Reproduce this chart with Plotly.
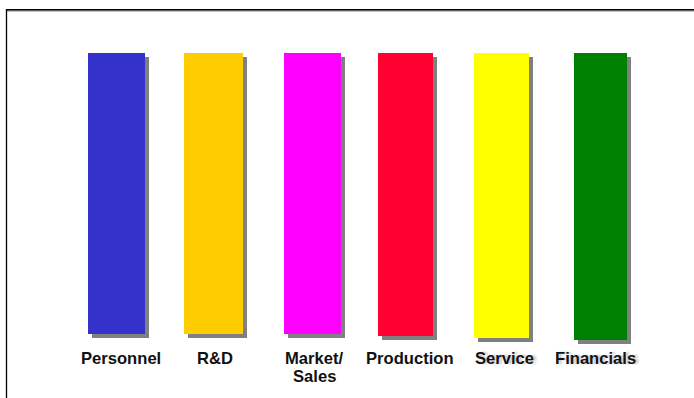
import plotly.graph_objects as go

# ---- data ----
categories = ["Personnel", "R&D", "Market/<br>Sales", "Production", "Service", "Financials"]
bar_lengths = [281, 281, 281, 283, 285, 287]   # bar lengths as read (px units of the drawing)
colors = ["#3333CC", "#FFCC00", "#FF00FF", "#FF0033", "#FFFF00", "#008000"]

# ---- layout helpers (positions / sizes / styles) ----
centers = [116.5, 213.5, 312.5, 405.5, 501.5, 600.5]
widths = [57, 59, 57, 55, 55, 53]
label_dx = [4.5, 1.2, 1.5, 4.5, 2.5, -5.5]
top = 53
shadow_off = 4
W, H = 694, 398

fig = go.Figure()

# shadows
fig.add_trace(go.Bar(
    x=[c + shadow_off for c in centers], y=bar_lengths, base=[top + shadow_off] * len(centers),
    width=widths, marker=dict(color="#808080", line=dict(width=0)),
    hoverinfo="skip", showlegend=False))
# bars
fig.add_trace(go.Bar(
    x=centers, y=bar_lengths, base=[top] * len(centers),
    width=widths, marker=dict(color=colors, line=dict(width=0)),
    text=categories, hoverinfo="x+y", textposition="none", showlegend=False))

annotations = []
for i, cat in enumerate(categories):
    for j, line in enumerate(cat.split("<br>")):
        f = dict(family="Arial, Liberation Sans, sans-serif", size=16.6, color="#111111")
        if cat in ("Service", "Financials"):
            f["shadow"] = "3px 0px 2px #c8c8c8"
        annotations.append(dict(
            x=centers[i] + label_dx[i], y=358 + 18 * j, xref="x", yref="y",
            text="<b>" + line + "</b>", showarrow=False,
            xanchor="center", yanchor="middle", font=f))

shapes = [
    dict(type="line", xref="x", yref="y", x0=7, x1=W + 10, y0=11, y1=11,
         line=dict(color="#888888", width=1)),
    dict(type="line", xref="x", yref="y", x0=6.5, x1=W + 10, y0=9.7, y1=9.7,
         line=dict(color="#000000", width=1.6)),
    dict(type="line", xref="x", yref="y", x0=6.5, x1=6.5, y0=9, y1=H + 10,
         line=dict(color="#000000", width=1.3)),
]

fig.update_layout(
    width=W, height=H, margin=dict(l=0, r=0, t=0, b=0),
    paper_bgcolor="white", plot_bgcolor="white",
    xaxis=dict(range=[0, W], visible=False, fixedrange=True),
    yaxis=dict(range=[H, 0], visible=False, fixedrange=True),
    barmode="overlay", annotations=annotations, shapes=shapes,
)

fig.write_html("out.html")
